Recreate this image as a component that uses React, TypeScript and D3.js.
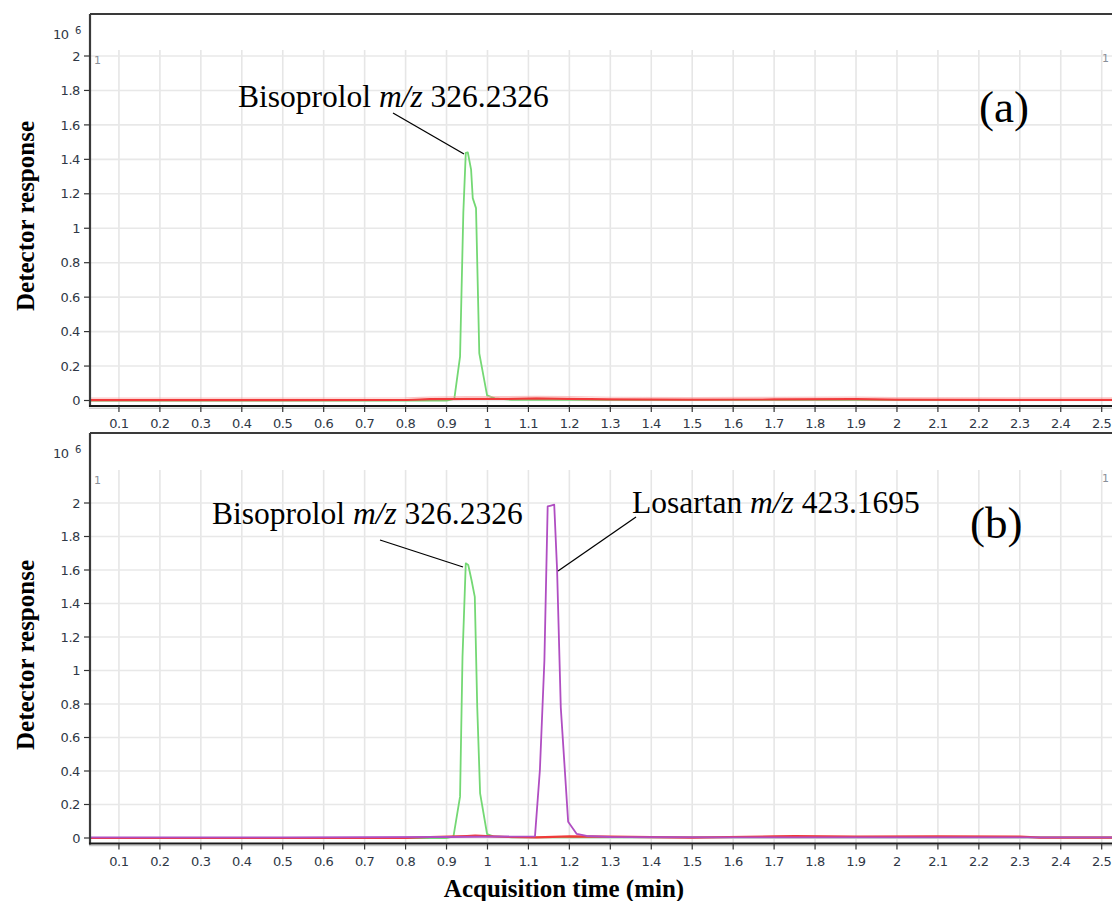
import React from "react";
import * as d3 from "d3";

// Acquisition time axis ticks (min) and detector response ticks (x10^6)
const timeTicks = [0.1, 0.2, 0.3, 0.4, 0.5, 0.6, 0.7, 0.8, 0.9, 1, 1.1, 1.2, 1.3, 1.4, 1.5, 1.6, 1.7, 1.8, 1.9, 2, 2.1, 2.2, 2.3, 2.4, 2.5];
const responseTicks = [0, 0.2, 0.4, 0.6, 0.8, 1, 1.2, 1.4, 1.6, 1.8, 2];

// Panel (a): bisoprolol EIC
const bisoTimeA = [0.03, 0.6, 0.9, 0.919, 0.933, 0.941, 0.947, 0.952, 0.96, 0.964, 0.972, 0.98, 0.999, 1.018, 1.06, 2.53];
const bisoRespA = [0.0, 0.0, 0.0, 0.01, 0.255, 1.088, 1.437, 1.44, 1.34, 1.175, 1.117, 0.274, 0.03, 0.012, 0.004, 0.003];
const bgTimeA = [0.03, 0.5, 0.8, 0.86, 0.95, 1.05, 1.12, 1.2, 1.3, 1.5, 1.7, 1.9, 2.0, 2.3, 2.53];
const bgRespA = [0.002, 0.002, 0.003, 0.008, 0.01, 0.01, 0.012, 0.01, 0.007, 0.005, 0.006, 0.008, 0.005, 0.004, 0.004];

// Panel (b): bisoprolol and losartan EICs
const bisoTimeB = [0.03, 0.6, 0.9, 0.917, 0.933, 0.939, 0.947, 0.953, 0.961, 0.969, 0.975, 0.982, 0.999, 1.014, 1.06, 2.53];
const bisoRespB = [0.0, 0.0, 0.0, 0.01, 0.247, 1.08, 1.64, 1.63, 1.54, 1.44, 0.78, 0.267, 0.024, 0.01, 0.004, 0.003];
const losTimeB = [0.03, 0.5, 0.9, 1.116, 1.128, 1.139, 1.147, 1.155, 1.163, 1.17, 1.179, 1.197, 1.218, 1.242, 1.3, 1.6, 2.0, 2.53];
const losRespB = [0.004, 0.004, 0.006, 0.01, 0.406, 1.06, 1.98, 1.985, 1.99, 1.6, 0.78, 0.097, 0.024, 0.012, 0.006, 0.004, 0.004, 0.004];
const bgTimeB = [0.03, 0.8, 0.86, 0.95, 0.97, 1.05, 1.12, 1.2, 1.3, 1.5, 1.7, 1.75, 1.9, 2.1, 2.3, 2.35, 2.53];
const bgRespB = [0.0, 0.0, 0.006, 0.012, 0.014, 0.006, 0.004, 0.01, 0.008, 0.002, 0.01, 0.012, 0.009, 0.01, 0.009, 0.002, 0.002];

const WIDTH = 1112;
const HEIGHT = 901;
const AXIS_LEFT = 90;

const x = d3.scaleLinear().domain([0, 2.5]).range([78, 1101.7]);

type Trace = { t: number[]; v: number[]; color: string; width: number; opacity?: number };
type Note = { parts: [string, boolean][]; x: number; y: number; from: [number, number]; to: [number, number] };

type PanelProps = {
  frameTop: number;
  zeroY: number;
  topY: number;
  gridTop: number;
  traces: Trace[];
  notes: Note[];
  tag: string;
  tagX: number;
  tagY: number;
  titleY: number;
};

const tickFont = "'DejaVu Sans', sans-serif";
const serif = "'Liberation Serif', 'Times New Roman', serif";
const tickColor = "#2f3846";
const fmt = d3.format("~g");

function Panel(p: PanelProps) {
  const y = d3.scaleLinear().domain([0, 2]).range([p.zeroY, p.topY]);
  const axisY = p.zeroY + 5.5;
  const pathFor = (tr: Trace) =>
    d3
      .line<number>()
      .x((_, i) => x(tr.t[i]))
      .y((d) => y(d))(tr.v) ?? "";
  return (
    <g>
      {/* vertical grid */}
      {timeTicks.map((t) => (
        <line key={"gv" + t} x1={x(t)} x2={x(t)} y1={p.gridTop} y2={axisY} stroke="#e6e6e6" strokeWidth={1.6} />
      ))}
      {/* horizontal grid */}
      {responseTicks.map((r) => (
        <line key={"gh" + r} x1={AXIS_LEFT} x2={WIDTH} y1={y(r)} y2={y(r)} stroke="#e8e8e8" strokeWidth={1.6} />
      ))}
      {/* traces */}
      {p.traces.map((tr, i) => (
        <path key={"tr" + i} d={pathFor(tr)} fill="none" stroke={tr.color} strokeWidth={tr.width} strokeOpacity={tr.opacity ?? 1} strokeLinejoin="round" />
      ))}
      {/* frame */}
      <line x1={AXIS_LEFT} x2={WIDTH} y1={p.frameTop} y2={p.frameTop} stroke="#3a3a3a" strokeWidth={2} />
      <line x1={AXIS_LEFT} x2={AXIS_LEFT} y1={p.frameTop} y2={axisY + 1} stroke="#3a3a3a" strokeWidth={2.2} />
      <line x1={AXIS_LEFT - 1} x2={WIDTH} y1={axisY} y2={axisY} stroke="#1a1a1a" strokeWidth={2} />
      <line x1={AXIS_LEFT - 1} x2={WIDTH} y1={axisY + 2.2} y2={axisY + 2.2} stroke="#bbbbbb" strokeWidth={1} />
      {/* y ticks */}
      {responseTicks.map((r) => (
        <g key={"yt" + r}>
          <line x1={AXIS_LEFT - 6} x2={AXIS_LEFT} y1={y(r)} y2={y(r)} stroke="#333" strokeWidth={1.2} />
          <text x={AXIS_LEFT - 10} y={y(r)} dy="0.36em" textAnchor="end" fontFamily={tickFont} fontSize={13} fill={tickColor} letterSpacing={-0.4}>
            {fmt(r)}
          </text>
        </g>
      ))}
      {/* x ticks */}
      {timeTicks.map((t) => (
        <g key={"xt" + t}>
          <line x1={x(t)} x2={x(t)} y1={axisY} y2={axisY + 6} stroke="#333" strokeWidth={1.2} />
          <text x={x(t)} y={axisY + 22} textAnchor="middle" fontFamily={tickFont} fontSize={13} fill={tickColor} letterSpacing={-0.4}>
            {fmt(t)}
          </text>
        </g>
      ))}
      {/* scale exponent */}
      <text x={53} y={p.frameTop + 25} fontFamily={tickFont} fontSize={13} fill={tickColor} letterSpacing={-0.5}>
        10
      </text>
      <text x={75} y={p.frameTop + 20} fontFamily={tickFont} fontSize={10} fill={tickColor}>
        6
      </text>
      <text x={94} y={p.gridTop + 14} fontFamily={tickFont} fontSize={11} fill="#8a8f99">
        1
      </text>
      <text x={1102} y={p.gridTop + 12} fontFamily={tickFont} fontSize={11} fill="#8a8f99">
        1
      </text>
      {/* annotations */}
      {p.notes.map((n, i) => (
        <g key={"n" + i}>
          <text x={n.x} y={n.y} fontFamily={serif} fontSize={31.5} fill="#000">
            {n.parts.map(([s, it], k) => (
              <tspan key={k} fontStyle={it ? "italic" : "normal"}>
                {s}
              </tspan>
            ))}
          </text>
          <line x1={n.from[0]} y1={n.from[1]} x2={n.to[0]} y2={n.to[1]} stroke="#000" strokeWidth={1.3} />
        </g>
      ))}
      <text x={p.tagX} y={p.tagY} fontFamily={serif} fontSize={45} fill="#000">
        {p.tag}
      </text>
      {/* y-axis title */}
      <text
        transform={`translate(34,${p.titleY}) rotate(-90)`}
        textAnchor="middle"
        fontFamily={serif}
        fontWeight="bold"
        fontSize={25}
        fill="#000"
      >
        Detector response
      </text>
    </g>
  );
}

const bisoLabel: [string, boolean][] = [
  ["Bisoprolol ", false],
  ["m/z", true],
  [" 326.2326", false],
];
const losLabel: [string, boolean][] = [
  ["Losartan ", false],
  ["m/z", true],
  [" 423.1695", false],
];

export default function App() {
  return (
    <svg width={WIDTH} height={HEIGHT} style={{ position: "absolute", left: 0, top: 0, background: "#fff" }}>
      <rect width={WIDTH} height={HEIGHT} fill="#fff" />
      <Panel
        frameTop={14}
        zeroY={400.5}
        topY={56}
        gridTop={50}
        titleY={216}
        tag="(a)"
        tagX={979}
        tagY={122}
        traces={[
          { t: bisoTimeA, v: bisoRespA, color: "#74d874", width: 1.8 },
          { t: bgTimeA, v: bgRespA, color: "#f03a3a", width: 2.2 },
          { t: bgTimeA, v: bgRespA.map((v) => v + 0.012), color: "#f8a0a0", width: 1.2, opacity: 0.6 },
        ]}
        notes={[{ parts: bisoLabel, x: 238, y: 107, from: [393, 113], to: [464, 154] }]}
      />
      <Panel
        frameTop={433}
        zeroY={838}
        topY={503}
        gridTop={470}
        titleY={655}
        tag="(b)"
        tagX={970}
        tagY={538}
        traces={[
          { t: bisoTimeB, v: bisoRespB, color: "#74d874", width: 1.8 },
          { t: bgTimeB, v: bgRespB, color: "#f03a3a", width: 2.2 },
          { t: losTimeB, v: losRespB, color: "#b04ec2", width: 1.8 },
        ]}
        notes={[
          { parts: bisoLabel, x: 212, y: 524, from: [380, 540], to: [463, 567] },
          { parts: losLabel, x: 632, y: 513, from: [636, 517], to: [558, 571] },
        ]}
      />
      <text x={564} y={897} textAnchor="middle" fontFamily={serif} fontWeight="bold" fontSize={25} fill="#000">
        Acquisition time (min)
      </text>
    </svg>
  );
}
